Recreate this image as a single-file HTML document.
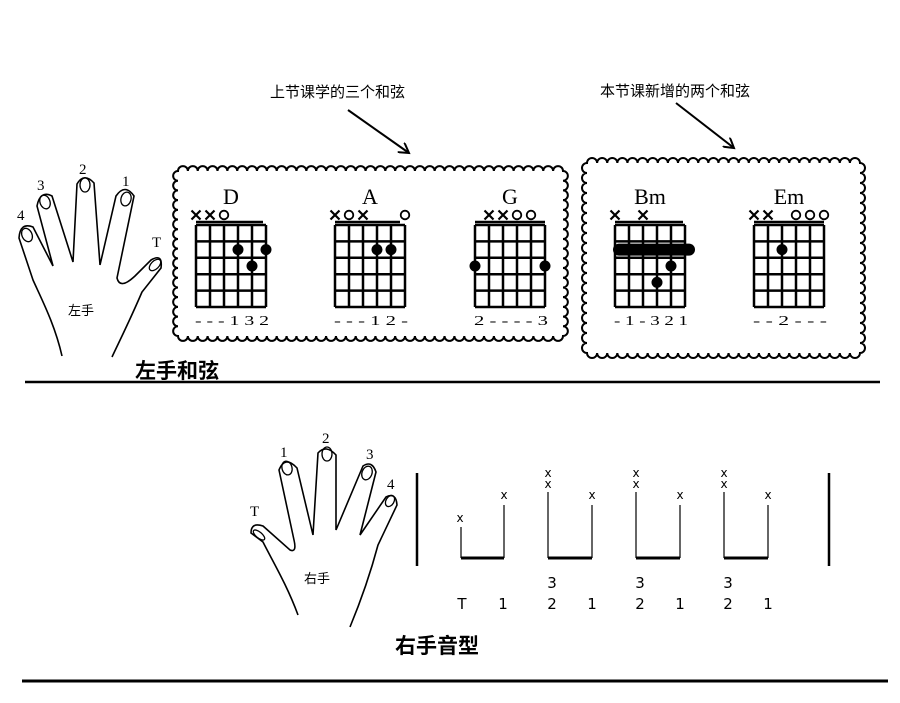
<!DOCTYPE html>
<html><head><meta charset="utf-8"><style>
html,body{margin:0;padding:0;background:#fff;}
svg{display:block;}
.cjk{font-family:"Liberation Sans","Noto Sans CJK SC","WenQuanYi Zen Hei",sans-serif;}
.ser{font-family:"Liberation Serif",serif;}
.mono{font-family:"DejaVu Sans","Liberation Sans",sans-serif;}
</style></head><body>
<svg id="s" width="900" height="703" viewBox="0 0 900 703" xmlns="http://www.w3.org/2000/svg">
<rect width="900" height="703" fill="#fff"/>
<defs><marker id="ah" markerWidth="12" markerHeight="12" refX="10" refY="6" orient="auto" markerUnits="userSpaceOnUse"><path d="M0,0 L10,6 L0,12" fill="none" stroke="#000" stroke-width="2"/></marker></defs>
<text class="cjk" x="270" y="97" font-size="15">上节课学的三个和弦</text>
<text class="cjk" x="600" y="96" font-size="15">本节课新增的两个和弦</text>
<line x1="348" y1="110" x2="409" y2="153" stroke="#000" stroke-width="2" marker-end="url(#ah)"/>
<line x1="676" y1="103" x2="734" y2="148" stroke="#000" stroke-width="2" marker-end="url(#ah)"/>
<g id="boxes" fill="none" stroke="#000" stroke-width="2"></g>
<g id="chords"></g>
<!-- left hand -->
<path d="M62,356 C55,325 42,300 33,280 L19,238 Q20,222 33,227 L53,266 L37,206 Q40,190 52,196 L73,262 L77,184 Q84,172 94,183 L100,265 L116,196 Q125,183 134,196 L117,278 Q120,290 135,276 L151,260 Q163,253 161,268 L142,292 C130,320 120,340 112,357" fill="none" stroke="#000" stroke-width="1.6"/>
<g fill="none" stroke="#000" stroke-width="1.3"><ellipse cx="27" cy="235" rx="5" ry="7" transform="rotate(-25 27 235)"/><ellipse cx="45" cy="202" rx="5" ry="7" transform="rotate(-20 45 202)"/><ellipse cx="85" cy="185" rx="5" ry="7"/><ellipse cx="126" cy="199" rx="5" ry="7" transform="rotate(15 126 199)"/><ellipse cx="155" cy="265" rx="4" ry="7" transform="rotate(45 155 265)"/></g>
<g class="ser" font-size="15"><text x="17" y="220">4</text><text x="37" y="190">3</text><text x="79" y="174">2</text><text x="122" y="186">1</text><text x="152" y="247">T</text></g>
<text class="cjk" x="68" y="315" font-size="13">左手</text>
<text class="cjk" x="135" y="378" font-size="21" font-weight="bold">左手和弦</text>
<line x1="25" y1="382" x2="880" y2="382" stroke="#000" stroke-width="2.5"/>
<!-- right hand -->
<path d="M298,615 C287,585 272,560 263,542 L251,533 Q251,522 263,526 L290,550 Q297,553 294,540 L279,470 Q285,455 297,468 L313,535 L318,453 Q326,444 336,455 L336,530 L363,466 Q372,460 376,472 L360,535 L386,497 Q396,492 397,505 L378,545 C370,575 362,598 350,627" fill="none" stroke="#000" stroke-width="1.6"/>
<g fill="none" stroke="#000" stroke-width="1.3"><ellipse cx="287" cy="468" rx="5" ry="7" transform="rotate(-15 287 468)"/><ellipse cx="327" cy="454" rx="5" ry="7"/><ellipse cx="367" cy="473" rx="5" ry="7" transform="rotate(20 367 473)"/><ellipse cx="390" cy="501" rx="4" ry="6" transform="rotate(30 390 501)"/><ellipse cx="259" cy="535" rx="3" ry="7" transform="rotate(-50 259 535)"/></g>
<g class="ser" font-size="15"><text x="280" y="457">1</text><text x="322" y="443">2</text><text x="366" y="459">3</text><text x="387" y="489">4</text><text x="250" y="516">T</text></g>
<text class="cjk" x="304" y="583" font-size="13">右手</text>
<text class="cjk" x="395" y="653" font-size="21" font-weight="bold">右手音型</text>
<!-- tab -->
<line x1="417" y1="473" x2="417" y2="566" stroke="#000" stroke-width="2.5"/>
<line x1="829" y1="473" x2="829" y2="566" stroke="#000" stroke-width="2.5"/>
<g id="tab"></g>
<line x1="22" y1="681" x2="888" y2="681" stroke="#000" stroke-width="3"/>
</svg>
<script>
var NS="http://www.w3.org/2000/svg";
function el(p,t,a,txt){var e=document.createElementNS(NS,t);for(var k in a)e.setAttribute(k,a[k]);if(txt!=null)e.textContent=txt;p.appendChild(e);return e;}
var bx=document.getElementById('boxes');
function scallop(x1,y1,x2,y2){
 var d="M"+x1+","+y1, r=5;
 var n=Math.round((x2-x1)/(2*r)), s=(x2-x1)/n, i;
 for(i=0;i<n;i++){d+=" a"+(s/2)+","+(s/2)+" 0 0 1 "+s+",0";}
 n=Math.round((y2-y1)/(2*r)); s=(y2-y1)/n;
 for(i=0;i<n;i++){d+=" a"+(s/2)+","+(s/2)+" 0 0 1 0,"+s;}
 n=Math.round((x2-x1)/(2*r)); s=(x2-x1)/n;
 for(i=0;i<n;i++){d+=" a"+(s/2)+","+(s/2)+" 0 0 1 "+(-s)+",0";}
 n=Math.round((y2-y1)/(2*r)); s=(y2-y1)/n;
 for(i=0;i<n;i++){d+=" a"+(s/2)+","+(s/2)+" 0 0 1 0,"+(-s);}
 el(bx,'path',{d:d+"Z"});
}
scallop(178,171,563,336);
scallop(587,163,860,353);
var ch=document.getElementById('chords');
var W=14, H=16.4, TOPY=225;
function chord(x,name,marks,nut,dots,fing,barre){
 var g=ch;
 for(var i=0;i<6;i++) el(g,'line',{x1:x+i*W,y1:TOPY,x2:x+i*W,y2:TOPY+5*H,stroke:'#000','stroke-width':2.5});
 for(var j=0;j<=5;j++) el(g,'line',{x1:x,y1:TOPY+j*H,x2:x+5*W,y2:TOPY+j*H,stroke:'#000','stroke-width':2.5});
 el(g,'line',{x1:nut[0],y1:TOPY-3,x2:nut[1],y2:TOPY-3,stroke:'#000','stroke-width':2.5});
 el(g,'text',{x:x+35,y:204,'font-size':22,'text-anchor':'middle','class':'ser'},name);
 marks.forEach(function(m){var cx=x+m[0]*W, cy=215;
  if(m[1]=='x'){el(g,'path',{d:"M"+(cx-4.5)+","+(cy-4.5)+"L"+(cx+4.5)+","+(cy+4.5)+"M"+(cx+4.5)+","+(cy-4.5)+"L"+(cx-4.5)+","+(cy+4.5),stroke:'#000','stroke-width':2.2});}
  else el(g,'circle',{cx:cx,cy:cy,r:4.3,fill:'#fff',stroke:'#000','stroke-width':1.8});});
 if(barre) el(g,'line',{x1:x+4,y1:TOPY+1.5*H,x2:x+5*W+4,y2:TOPY+1.5*H,stroke:'#000','stroke-width':12,'stroke-linecap':'round'});
 dots.forEach(function(d){el(g,'circle',{cx:x+d[0]*W,cy:TOPY+(d[1]-0.5)*H,r:5.5,fill:'#000'});});
 el(g,'text',{x:x-1,y:325,'font-size':14,'class':'ser','textLength':74,'lengthAdjust':'spacingAndGlyphs'},fing);
}
chord(196,'D',[[0,'x'],[1,'x'],[2,'o']],[196,263],[[3,2],[5,2],[4,3]],'- - - 1 3 2');
chord(335,'A',[[0,'x'],[1,'o'],[2,'x'],[5,'o']],[335,400],[[3,2],[4,2]],'- - - 1 2 -');
chord(475,'G',[[1,'x'],[2,'x'],[3,'o'],[4,'o']],[475,545],[[0,3],[5,3]],'2 - - - - 3');
chord(615,'Bm',[[0,'x'],[2,'x']],[615,683],[[4,3],[3,4]],'- 1 - 3 2 1',true);
chord(754,'Em',[[0,'x'],[1,'x'],[3,'o'],[4,'o'],[5,'o']],[754,824],[[2,2]],'- - 2 - - -');
var tb=document.getElementById('tab');
function X(x,y){el(tb,'text',{x:x,y:y,'font-size':12,'text-anchor':'middle','class':'mono'},'x');}
function T(x,y,t){el(tb,'text',{x:x,y:y,'font-size':15,'text-anchor':'middle','class':'mono'},t);}
function br(l,r,ly){
 el(tb,'line',{x1:l,y1:ly,x2:l,y2:558,stroke:'#000','stroke-width':1.2});
 el(tb,'line',{x1:r,y1:505,x2:r,y2:558,stroke:'#000','stroke-width':1.2});
 el(tb,'line',{x1:l,y1:558,x2:r,y2:558,stroke:'#000','stroke-width':3});
 X(r,499);
}
br(461,504,527); X(460,522); T(462,609,'T'); T(503,609,'1');
[548,636,724].forEach(function(l){br(l,l+44,492); X(l,477); X(l,488); T(l+4,588,'3'); T(l+4,609,'2'); T(l+44,609,'1');});
</script>
</body></html>
